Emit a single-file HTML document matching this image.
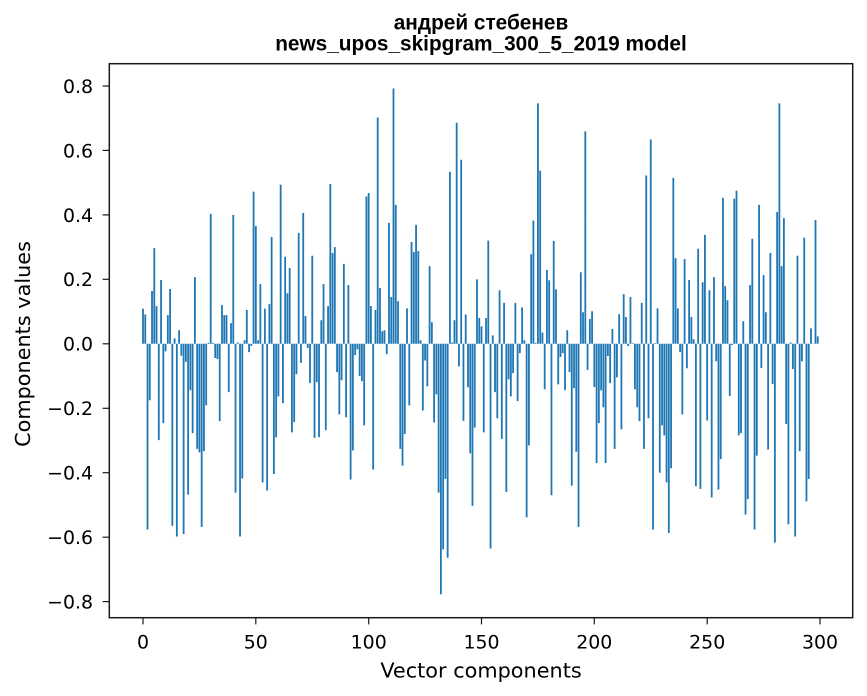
<!DOCTYPE html>
<html>
<head>
<meta charset="utf-8">
<style>
html,body{margin:0;padding:0;background:#fff;}
svg{display:block;}
.tk{font-family:"DejaVu Sans","Liberation Sans",sans-serif;font-size:18.9px;fill:#000;}
.lb{font-family:"DejaVu Sans","Liberation Sans",sans-serif;font-size:20.8px;fill:#000;}
.tt{font-family:"Liberation Sans","DejaVu Sans",sans-serif;font-size:20.8px;font-weight:bold;fill:#000;}
</style>
</head>
<body>
<svg width="867" height="696" viewBox="0 0 867 696" xmlns="http://www.w3.org/2000/svg">
<rect x="0" y="0" width="867" height="696" fill="#fff"/>
<g transform="translate(142.097,343.8) scale(2.2567,-322.3)">
<path fill="#1f77b4" d="M0 0V.109h.8V0zM1 0V.091h.8V0zM2 0V-.576h.8V0zM3 0V-.175h.8V0zM4 0V.164h.8V0zM5 0V.297h.8V0zM6 0V.117h.8V0zM7 0V-.299h.8V0zM8 0V.198h.8V0zM9 0V-.246h.8V0z
M10 0V-.023h.8V0zM11 0V.089h.8V0zM12 0V.17h.8V0zM13 0V-.565h.8V0zM14 0V.017h.8V0zM15 0V-.598h.8V0zM16 0V.042h.8V0zM17 0V-.037h.8V0zM18 0V-.59h.8V0zM19 0V-.056h.8V0z
M20 0V-.468h.8V0zM21 0V-.144h.8V0zM22 0V-.277h.8V0zM23 0V.207h.8V0zM24 0V-.326h.8V0zM25 0V-.337h.8V0zM26 0V-.568h.8V0zM27 0V-.333h.8V0zM28 0V-.191h.8V0zM29 0V.003h.8V0z
M30 0V.403h.8V0zM31 0V.003h.8V0zM32 0V-.044h.8V0zM33 0V-.047h.8V0zM34 0V-.24h.8V0zM35 0V.12h.8V0zM36 0V.089h.8V0zM37 0V.089h.8V0zM38 0V-.15h.8V0zM39 0V.064h.8V0z
M40 0V.4h.8V0zM41 0V-.462h.8V0zM42 0V.004h.8V0zM43 0V-.598h.8V0zM44 0V-.418h.8V0zM45 0V.011h.8V0zM46 0V.105h.8V0zM47 0V-.026h.8V0zM48 0V-.007h.8V0zM49 0V.472h.8V0z
M50 0V.365h.8V0zM51 0V.011h.8V0zM52 0V.185h.8V0zM53 0V-.43h.8V0zM54 0V.109h.8V0zM55 0V-.455h.8V0zM56 0V.123h.8V0zM57 0V.331h.8V0zM58 0V-.404h.8V0zM59 0V-.29h.8V0z
M60 0V-.163h.8V0zM61 0V.494h.8V0zM62 0V-.184h.8V0zM63 0V.27h.8V0zM64 0V.157h.8V0zM65 0V.235h.8V0zM66 0V-.275h.8V0zM67 0V-.243h.8V0zM68 0V-.094h.8V0zM69 0V.344h.8V0z
M70 0V-.059h.8V0zM71 0V.406h.8V0zM72 0V.086h.8V0zM73 0V-.013h.8V0zM74 0V-.122h.8V0zM75 0V.273h.8V0zM76 0V-.292h.8V0zM77 0V-.119h.8V0zM78 0V-.29h.8V0zM79 0V.073h.8V0z
M80 0V.185h.8V0zM81 0V-.268h.8V0zM82 0V.117h.8V0zM83 0V.496h.8V0zM84 0V.282h.8V0zM85 0V.3h.8V0zM86 0V-.088h.8V0zM87 0V-.219h.8V0zM88 0V-.113h.8V0zM89 0V.248h.8V0z
M90 0V-.228h.8V0zM91 0V.182h.8V0zM92 0V-.421h.8V0zM93 0V-.331h.8V0zM94 0V-.035h.8V0zM95 0V-.017h.8V0zM96 0V-.1h.8V0zM97 0V-.116h.8V0zM98 0V-.253h.8V0zM99 0V.457h.8V0z
M100 0V.468h.8V0zM101 0V.117h.8V0zM102 0V-.39h.8V0zM103 0V.105h.8V0zM104 0V.702h.8V0zM105 0V.173h.8V0zM106 0V.039h.8V0zM107 0V.042h.8V0zM108 0V-.032h.8V0zM109 0V.375h.8V0z
M110 0V.145h.8V0zM111 0V.792h.8V0zM112 0V.431h.8V0zM113 0V.132h.8V0zM114 0V-.326h.8V0zM115 0V-.378h.8V0zM116 0V-.28h.8V0zM117 0V.11h.8V0zM118 0V-.191h.8V0zM119 0V.316h.8V0z
M120 0V.285h.8V0zM121 0V.369h.8V0zM122 0V.288h.8V0zM123 0V.011h.8V0zM124 0V-.207h.8V0zM125 0V-.052h.8V0zM126 0V-.132h.8V0zM127 0V.241h.8V0zM128 0V.067h.8V0zM129 0V-.244h.8V0z
M130 0V-.157h.8V0zM131 0V-.462h.8V0zM132 0V-.777h.8V0zM133 0V-.638h.8V0zM134 0V-.419h.8V0zM135 0V-.664h.8V0zM136 0V.534h.8V0zM137 0V.004h.8V0zM138 0V.073h.8V0zM139 0V.686h.8V0z
M140 0V-.07h.8V0zM141 0V.571h.8V0zM142 0V-.239h.8V0zM143 0V.091h.8V0zM144 0V-.135h.8V0zM145 0V-.34h.8V0zM146 0V-.503h.8V0zM147 0V-.26h.8V0zM148 0V.2h.8V0zM149 0V.08h.8V0z
M150 0V.054h.8V0zM151 0V-.275h.8V0zM152 0V.08h.8V0zM153 0V.32h.8V0zM154 0V-.635h.8V0zM155 0V.026h.8V0zM156 0V-.15h.8V0zM157 0V-.231h.8V0zM158 0V.166h.8V0zM159 0V-.295h.8V0z
M160 0V.127h.8V0zM161 0V-.46h.8V0zM162 0V-.11h.8V0zM163 0V-.163h.8V0zM164 0V-.091h.8V0zM165 0V.127h.8V0zM166 0V-.178h.8V0zM167 0V-.029h.8V0zM168 0V.113h.8V0zM169 0V.011h.8V0z
M170 0V-.538h.8V0zM171 0V-.315h.8V0zM172 0V.278h.8V0zM173 0V.382h.8V0zM174 0V.003h.8V0zM175 0V.746h.8V0zM176 0V.537h.8V0zM177 0V.035h.8V0zM178 0V-.141h.8V0zM179 0V.229h.8V0z
M180 0V.197h.8V0zM181 0V-.47h.8V0zM182 0V.319h.8V0zM183 0V.169h.8V0zM184 0V-.126h.8V0zM185 0V-.041h.8V0zM186 0V-.029h.8V0zM187 0V-.144h.8V0zM188 0V.042h.8V0zM189 0V-.088h.8V0z
M190 0V-.44h.8V0zM191 0V-.138h.8V0zM192 0V-.335h.8V0zM193 0V-.568h.8V0zM194 0V.222h.8V0zM195 0V.098h.8V0zM196 0V.659h.8V0zM197 0V-.081h.8V0zM198 0V.077h.8V0zM199 0V.101h.8V0z
M200 0V-.134h.8V0zM201 0V-.37h.8V0zM202 0V-.246h.8V0zM203 0V-.144h.8V0zM204 0V-.197h.8V0zM205 0V-.37h.8V0zM206 0V-.038h.8V0zM207 0V-.122h.8V0zM208 0V.046h.8V0zM209 0V-.326h.8V0z
M210 0V-.104h.8V0zM211 0V.092h.8V0zM212 0V-.265h.8V0zM213 0V.154h.8V0zM214 0V.083h.8V0zM215 0V-.007h.8V0zM216 0V.145h.8V0zM217 0V.002h.8V0zM218 0V-.141h.8V0zM219 0V-.197h.8V0z
M220 0V-.24h.8V0zM221 0V.127h.8V0zM222 0V-.326h.8V0zM223 0V.522h.8V0zM224 0V-.231h.8V0zM225 0V.634h.8V0zM226 0V-.576h.8V0zM227 0V.002h.8V0zM228 0V.11h.8V0zM229 0V-.4h.8V0z
M230 0V-.253h.8V0zM231 0V-.284h.8V0zM232 0V-.43h.8V0zM233 0V-.587h.8V0zM234 0V-.386h.8V0zM235 0V.515h.8V0zM236 0V.266h.8V0zM237 0V.11h.8V0zM238 0V-.026h.8V0zM239 0V-.219h.8V0z
M240 0V.263h.8V0zM241 0V-.076h.8V0zM242 0V.198h.8V0zM243 0V.083h.8V0zM244 0V.014h.8V0zM245 0V-.442h.8V0zM246 0V.295h.8V0zM247 0V-.45h.8V0zM248 0V.191h.8V0zM249 0V.338h.8V0z
M250 0V-.238h.8V0zM251 0V.166h.8V0zM252 0V-.477h.8V0zM253 0V.207h.8V0zM254 0V-.054h.8V0zM255 0V-.452h.8V0zM256 0V-.358h.8V0zM257 0V.453h.8V0zM258 0V.179h.8V0zM259 0V.135h.8V0z
M260 0V-.162h.8V0zM261 0V-.004h.8V0zM262 0V.45h.8V0zM263 0V.475h.8V0zM264 0V-.284h.8V0zM265 0V-.277h.8V0zM266 0V.07h.8V0zM267 0V-.53h.8V0zM268 0V-.482h.8V0zM269 0V.182h.8V0z
M270 0V.326h.8V0zM271 0V-.576h.8V0zM272 0V-.347h.8V0zM273 0V.431h.8V0zM274 0V-.075h.8V0zM275 0V.213h.8V0zM276 0V.098h.8V0zM277 0V-.328h.8V0zM278 0V.282h.8V0zM279 0V-.125h.8V0z
M280 0V-.617h.8V0zM281 0V.409h.8V0zM282 0V.746h.8V0zM283 0V.241h.8V0zM284 0V.39h.8V0zM285 0V-.249h.8V0zM286 0V-.56h.8V0zM287 0V.004h.8V0zM288 0V-.078h.8V0zM289 0V-.598h.8V0z
M290 0V.273h.8V0zM291 0V-.333h.8V0zM292 0V-.054h.8V0zM293 0V.329h.8V0zM294 0V-.489h.8V0zM295 0V-.419h.8V0zM296 0V.048h.8V0zM297 0V.001h.8V0zM298 0V.384h.8V0zM299 0V.023h.8V0z"/>
</g>
<!-- axes frame -->
<rect x="109.3" y="63.7" width="743.4" height="554" fill="none" stroke="#1a1a1a" stroke-width="1.5"/>
<!-- y ticks -->
<g stroke="#1a1a1a" stroke-width="1.2">
<line x1="102.6" y1="86.0" x2="109.3" y2="86.0"/>
<line x1="102.6" y1="150.4" x2="109.3" y2="150.4"/>
<line x1="102.6" y1="214.9" x2="109.3" y2="214.9"/>
<line x1="102.6" y1="279.3" x2="109.3" y2="279.3"/>
<line x1="102.6" y1="343.8" x2="109.3" y2="343.8"/>
<line x1="102.6" y1="408.3" x2="109.3" y2="408.3"/>
<line x1="102.6" y1="472.7" x2="109.3" y2="472.7"/>
<line x1="102.6" y1="537.2" x2="109.3" y2="537.2"/>
<line x1="102.6" y1="601.6" x2="109.3" y2="601.6"/>
<line x1="143" y1="617.7" x2="143" y2="624.4"/>
<line x1="255.8" y1="617.7" x2="255.8" y2="624.4"/>
<line x1="368.7" y1="617.7" x2="368.7" y2="624.4"/>
<line x1="481.5" y1="617.7" x2="481.5" y2="624.4"/>
<line x1="594.3" y1="617.7" x2="594.3" y2="624.4"/>
<line x1="707.2" y1="617.7" x2="707.2" y2="624.4"/>
<line x1="820" y1="617.7" x2="820" y2="624.4"/>
</g>
<g class="tk" text-anchor="end">
<text x="93" y="92.9">0.8</text>
<text x="93" y="157.3">0.6</text>
<text x="93" y="221.8">0.4</text>
<text x="93" y="286.2">0.2</text>
<text x="93" y="350.7">0.0</text>
<text x="93" y="415.2">−0.2</text>
<text x="93" y="479.6">−0.4</text>
<text x="93" y="544.1">−0.6</text>
<text x="93" y="608.5">−0.8</text>
</g>
<g class="tk" text-anchor="middle">
<text x="143" y="648.5">0</text>
<text x="255.8" y="648.5">50</text>
<text x="368.7" y="648.5">100</text>
<text x="481.5" y="648.5">150</text>
<text x="594.3" y="648.5">200</text>
<text x="707.2" y="648.5">250</text>
<text x="820" y="648.5">300</text>
</g>
<text class="lb" x="481" y="677.5" text-anchor="middle">Vector components</text>
<text class="lb" transform="translate(30,344) rotate(-90)" text-anchor="middle">Components values</text>
<text class="tt" x="481" y="29.5" text-anchor="middle">андрей стебенев</text>
<text class="tt" x="481" y="50.5" text-anchor="middle">news_upos_skipgram_300_5_2019 model</text>
</svg>
</body>
</html>
